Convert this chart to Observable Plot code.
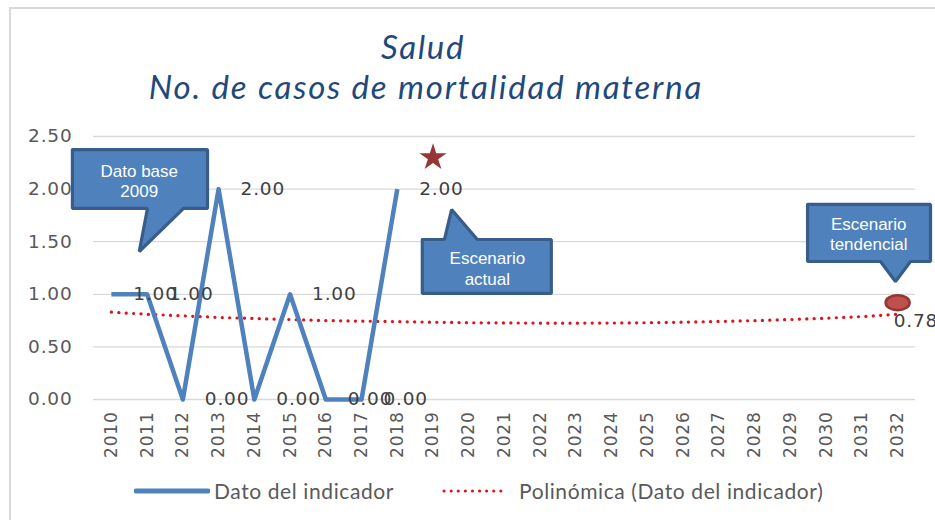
<!DOCTYPE html>
<html>
<head>
<meta charset="utf-8">
<script src="https://cdn.jsdelivr.net/npm/d3@7"></script>
<script src="https://cdn.jsdelivr.net/npm/@observablehq/plot@0.6"></script>
<style>
  html, body { margin: 0; padding: 0; background: #fff; }
  #wrap { position: relative; width: 935px; height: 520px; overflow: hidden; background: #fff; }
  #frame { position: absolute; left: 9px; top: 7px; width: 940px; height: 530px;
           border-top: 2px solid #D9D9D9; border-left: 2px solid #D9D9D9; box-sizing: border-box; }
  #title { position: relative; height: 118px; font-family: Lato, "Open Sans", sans-serif;
           font-style: italic; color: #1F497D; }
  #title .l1 { position: absolute; left: 0; width: 846px; top: 26px; text-align: center; font-size: 33px; letter-spacing: 1.6px; }
  #title .l2 { position: absolute; left: 0; width: 852px; top: 66px; text-align: center; font-size: 33px; letter-spacing: 1.8px; }
  #chart { position: relative; height: 352px; }
  #chart svg { display: block; overflow: visible; }
  #chart svg text { letter-spacing: 0.8px; }
  #chart svg g[font-family^="Liberation"] text { letter-spacing: 0; }
  #legend { position: relative; height: 50px; font-family: Lato, "Open Sans", sans-serif;
            font-size: 21px; letter-spacing: 0.6px; color: #595959; }
  #legend .item { position: absolute; top: 8px; display: flex; align-items: center; }
  #legend svg { display: block; margin-right: 4px; }
</style>
</head>
<body>
<div id="wrap">
  <div id="frame"></div>
  <div id="title"><div class="l1">Salud</div><div class="l2">No. de casos de mortalidad materna</div></div>
  <div id="chart"></div>
  <div id="legend"></div>
</div>
<script>
// ---- data ----
const years = [2010, 2011, 2012, 2013, 2014, 2015, 2016, 2017, 2018, 2019, 2020, 2021,
               2022, 2023, 2024, 2025, 2026, 2027, 2028, 2029, 2030, 2031, 2032];
const indicatorYears = [2010, 2011, 2012, 2013, 2014, 2015, 2016, 2017, 2018];
const indicatorValues = [1, 1, 0, 2, 0, 1, 0, 0, 2];
const trendValues = [0.83, 0.81, 0.795, 0.78, 0.77, 0.76, 0.75, 0.745, 0.74, 0.735, 0.73, 0.728,
                     0.726, 0.726, 0.727, 0.73, 0.735, 0.742, 0.75, 0.76, 0.773, 0.788, 0.81];
const trendLabel = "0.78";
const yTicks = [0, 0.5, 1, 1.5, 2, 2.5];
const actualMarker = {year: 2019, value: 2.30};     // star
const trendMarker = {year: 2032, value: 0.92};      // ellipse
const seriesNames = ["Dato del indicador", "Polinómica (Dato del indicador)"];

// callouts (annotation geometry in data units: year / value)
const callouts = [
  {text: "Dato base\n2009", x1: 2008.91, x2: 2012.69, y1: 1.816, y2: 2.376,
   side: "bottom", t1: 2011.01, t2: 2012.02, tipX: 2010.78, tipY: 1.407, tx: 2010.78, ty: 2.082},
  {text: "Escenario\nactual", x1: 2018.70, x2: 2022.31, y1: 1.008, y2: 1.521,
   side: "top", t1: 2019.32, t2: 2020.24, tipX: 2019.52, tipY: 1.806, tx: 2020.52, ty: 1.25},
  {text: "Escenario\ntendencial", x1: 2029.48, x2: 2032.92, y1: 1.312, y2: 1.854,
   side: "bottom", t1: 2031.52, t2: 2032.36, tipX: 2031.94, tipY: 1.122, tx: 2031.19, ty: 1.578}
];

// ---- derived tables ----
const indicator = indicatorYears.map((y, i) => ({year: y, value: indicatorValues[i]}));
const trend = years.map((y, i) => ({year: y, value: trendValues[i]}));
const calloutPts = [];
callouts.forEach((c, k) => {
  let pts;
  if (c.side === "bottom") {
    pts = [[c.x1, c.y2], [c.x2, c.y2], [c.x2, c.y1], [c.t2, c.y1], [c.tipX, c.tipY], [c.t1, c.y1], [c.x1, c.y1], [c.x1, c.y2]];
  } else {
    pts = [[c.x1, c.y2], [c.t1, c.y2], [c.tipX, c.tipY], [c.t2, c.y2], [c.x2, c.y2], [c.x2, c.y1], [c.x1, c.y1], [c.x1, c.y2]];
  }
  pts.forEach(p => calloutPts.push({id: k, x: p[0], y: p[1]}));
});

const ellipseSymbol = {
  draw(ctx, size) {
    const rx = 12, ry = 7.5, k = 0.5523;
    ctx.moveTo(rx, 0);
    ctx.bezierCurveTo(rx, ry * k, rx * k, ry, 0, ry);
    ctx.bezierCurveTo(-rx * k, ry, -rx, ry * k, -rx, 0);
    ctx.bezierCurveTo(-rx, -ry * k, -rx * k, -ry, 0, -ry);
    ctx.bezierCurveTo(rx * k, -ry, rx, -ry * k, rx, 0);
    ctx.closePath();
  }
};

const labelFont = "DejaVu Sans, Verdana, sans-serif";

const plot = Plot.plot({
  width: 935,
  height: 352,
  marginLeft: 93,
  marginRight: 20,
  marginTop: 18,
  marginBottom: 71,
  style: {fontFamily: labelFont, fontSize: "18.5px", color: "#595959", background: "transparent", overflow: "visible"},
  x: {type: "linear", domain: [2009.5, 2032.5], ticks: years, tickFormat: d => String(d),
      tickRotate: -90, tickSize: 0, tickPadding: 12, label: null},
  y: {domain: [0, 2.5], ticks: yTicks, tickFormat: d => d.toFixed(2), tickSize: 0, tickPadding: 21, label: null},
  marks: [
    Plot.ruleY(yTicks, {stroke: "#D9D9D9", strokeWidth: 1.3}),
    Plot.line(trend, {x: "year", y: "value", stroke: "#E0121A", strokeWidth: 3.2,
      strokeDasharray: "0.1 7.3", strokeLinecap: "round"}),
    Plot.line(indicator, {x: "year", y: "value", stroke: "#4F81BD", strokeWidth: 4.5,
      strokeLinejoin: "round", strokeLinecap: "butt"}),
    Plot.text(indicator, {x: "year", y: "value", text: d => d.value.toFixed(2), dx: 22,
      textAnchor: "start", fontSize: 18.5, fill: "#404040", fontFamily: labelFont}),
    Plot.dot([actualMarker], {x: "year", y: "value", symbol: "star", r: 8.5, fill: "#953735", stroke: "none"}),
    Plot.dot([trendMarker], {x: "year", y: "value", symbol: ellipseSymbol, r: 8, fill: "#C0504D",
      stroke: "#943634", strokeWidth: 2.5}),
    Plot.text([trend[trend.length - 1]], {x: "year", y: "value", text: () => trendLabel, dx: -4, dy: 7,
      textAnchor: "start", fontSize: 18.5, fill: "#404040", fontFamily: labelFont}),
    Plot.line(calloutPts, {x: "x", y: "y", z: "id", fill: "#4F81BD", stroke: "#385D8A",
      strokeWidth: 3.2, strokeLinejoin: "miter", curve: "linear"}),
    Plot.text(callouts, {x: "tx", y: "ty", text: "text", fill: "#FFFFFF", fontSize: 17,
      fontFamily: "Liberation Sans, Arial, sans-serif", lineHeight: 1.22, textAnchor: "middle"})
  ]
});

// x tick labels are a bit smaller than y tick labels
plot.querySelectorAll('g[aria-label="x-axis"] text, g[aria-label="x-axis tick label"] text').forEach(t => {
  t.setAttribute("font-size", "17px");
  t.style.fontSize = "17px";
});
document.getElementById("chart").appendChild(plot);

// legend
const legend = document.getElementById("legend");
function addItem(left, sample, name) {
  const item = document.createElement("div");
  item.className = "item";
  item.style.left = left + "px";
  item.innerHTML = sample + "<span>" + name + "</span>";
  legend.appendChild(item);
}
addItem(134, '<svg width="76" height="10"><line x1="2" y1="5" x2="74" y2="5" stroke="#4F81BD" stroke-width="5" stroke-linecap="round"/></svg>', seriesNames[0]);
addItem(441, '<svg width="74" height="10"><line x1="3" y1="5" x2="66" y2="5" stroke="#E0121A" stroke-width="3" stroke-dasharray="0.1 7" stroke-linecap="round"/></svg>', seriesNames[1]);
</script>
</body>
</html>
